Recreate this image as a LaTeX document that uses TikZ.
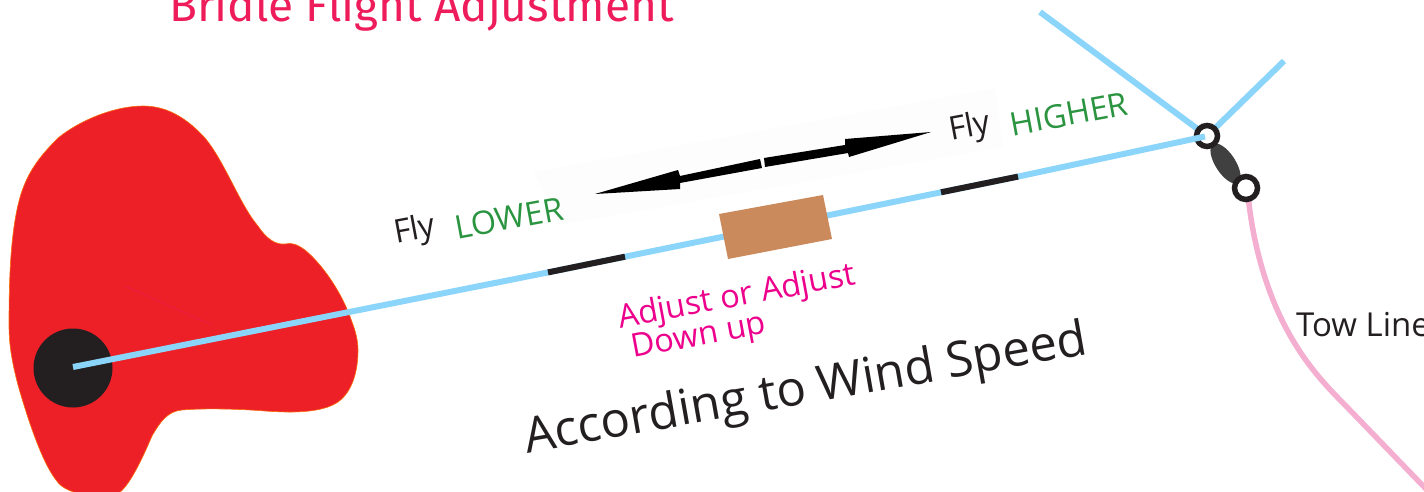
\documentclass[tikz,border=0pt]{standalone}
\usepackage{fontspec}
\setmainfont{Open Sans}
\newfontfamily\titlefont{Fira Sans}
\definecolor{skyline}{HTML}{8BD5FA}
\definecolor{inkdark}{HTML}{231F20}
\definecolor{kitered}{HTML}{ED1F27}
\definecolor{tabbrown}{HTML}{CA8A5C}
\definecolor{pinkline}{HTML}{F4AED0}
\definecolor{greenword}{HTML}{2A9440}
\definecolor{magword}{HTML}{EC008C}
\definecolor{titlered}{HTML}{EE1C5A}
\tikzset{
  bridle/.style={draw=skyline,line width=6pt},
  knot/.style={draw=inkdark,line width=6pt},
  ringnode/.style={circle,draw=inkdark,fill=white,line width=5.5pt,inner sep=0pt,minimum size=#1},
  lab/.style={inner sep=0pt,font=\fontsize{32.5}{36}\selectfont,text=inkdark,rotate=10.5},
  grn/.style={lab,text=greenword},
  mag/.style={inner sep=0pt,font=\fontsize{32.5}{36}\selectfont,text=magword,rotate=10.5},
}
\begin{document}
\begin{tikzpicture}[x=1pt,y=-1pt]
\useasboundingbox (0,0) rectangle (1424,492);
\clip (0,0) rectangle (1424,492);
% faint panel behind the arrow
\fill[black!0.8] (533,172) -- (995,88) -- (1003,147) -- (560,225) -- cycle;
% title
\node[anchor=base west,inner sep=0pt,text=titlered,font=\titlefont\fontsize{46}{50}\selectfont] (title) at (169,22) {Bridle Flight Adjustment};
% kite body
\draw[fill=kitered,draw=orange!80!kitered,line width=0.6pt]
  (143,106) .. controls (165,106) and (185,116) .. (205,138)
  .. controls (225,162) and (240,205) .. (258,226)
  .. controls (266,238) and (275,245) .. (285,244)
  .. controls (292,242) and (298,245) .. (305,250)
  .. controls (322,264) and (342,292) .. (352,322)
  .. controls (356,332) and (358,342) .. (358,350)
  .. controls (358,372) and (352,392) .. (338,402)
  .. controls (322,413) and (292,413) .. (265,411)
  .. controls (240,409) and (205,408) .. (182,410)
  .. controls (168,411) and (160,422) .. (152,436)
  .. controls (146,450) and (135,475) .. (125,487)
  .. controls (121,492) and (118,495) .. (110,495)
  -- (85,495)
  .. controls (72,492) and (62,489) .. (56,480)
  .. controls (42,462) and (28,420) .. (18,385)
  .. controls (12,362) and (9,345) .. (9,325)
  .. controls (9,285) and (10,240) .. (18,205)
  .. controls (25,175) and (38,158) .. (58,138)
  .. controls (80,120) and (115,106) .. (143,106) -- cycle;
\draw[titlered!70!kitered,line width=0.7pt] (125,286) -- (212,325);
\node[circle,fill=inkdark,inner sep=0pt,minimum size=79pt] (hub) at (73,368) {};
% coordinates of the bridle
\coordinate (lineStart) at (73,367);
\coordinate (lineEnd) at (1205,136.5);
\coordinate (legA) at (1040,12);
\coordinate (legB) at (1284,61);
\coordinate (k1) at (548,272.4);
\coordinate (k2) at (625,256.7);
\coordinate (k3) at (941,192.3);
\coordinate (k4) at (1018,176.6);
% legs run behind the rings
\draw[bridle] (legA) -- (1207,136);
\draw[bridle] (legB) -- (1207,136);
% tow line
\draw[draw=pinkline,line width=5.5pt] (1248,195) .. controls (1254,255) and (1272,308) .. (1297,347)
  .. controls (1312,371) and (1330,390) .. (1345,405) -- (1428,491);
% swivel and rings
\fill[black!75] (1225.5,163.5) ellipse [x radius=23pt,y radius=10pt,rotate=-57];
\node[ringnode=21pt] (ringA) at (1207,136) {};
\node[ringnode=23pt] (ringB) at (1246,188) {};
% main line, over the ring
\draw[bridle] (lineStart) -- (k1) -- (k2) -- (k3) -- (k4) -- (lineEnd);
\draw[knot] (k1) -- (k2);
\draw[knot] (k3) -- (k4);
% adjuster tab
\fill[tabbrown] (719,214) -- (823,195) -- (832,239) -- (728,259) -- cycle;
% arrows
\fill[black] (595,194) -- (678,170) -- (680,176) -- (760,159) -- (762,168) -- (680,183) -- (680,189) -- cycle;
\fill[black] (931,132) -- (845,139) -- (845,145) -- (764,158) -- (765,167) -- (848,153) -- (849,157) -- cycle;
% labels
\node[lab] (flyLow) at (415,231) {Fly};
\node[grn] (lower) at (509,218) {LOWER};
\node[lab] (flyHigh) at (970,128) {Fly};
\node[grn] (higher) at (1069,114) {HIGHER};
\node[mag] (adj) at (737,298) {Adjust or Adjust};
\node[mag] (down) at (699,338) {Down up};
\node[inner sep=0pt,text=inkdark,font=\fontsize{49}{54}\selectfont,rotate=10] (wind) at (806,391) {According to Wind Speed};
\node[anchor=base west,inner sep=0pt,text=inkdark,font=\fontsize{33}{37}\selectfont] (tow) at (1296,336) {Tow Line};
\end{tikzpicture}
\end{document}
